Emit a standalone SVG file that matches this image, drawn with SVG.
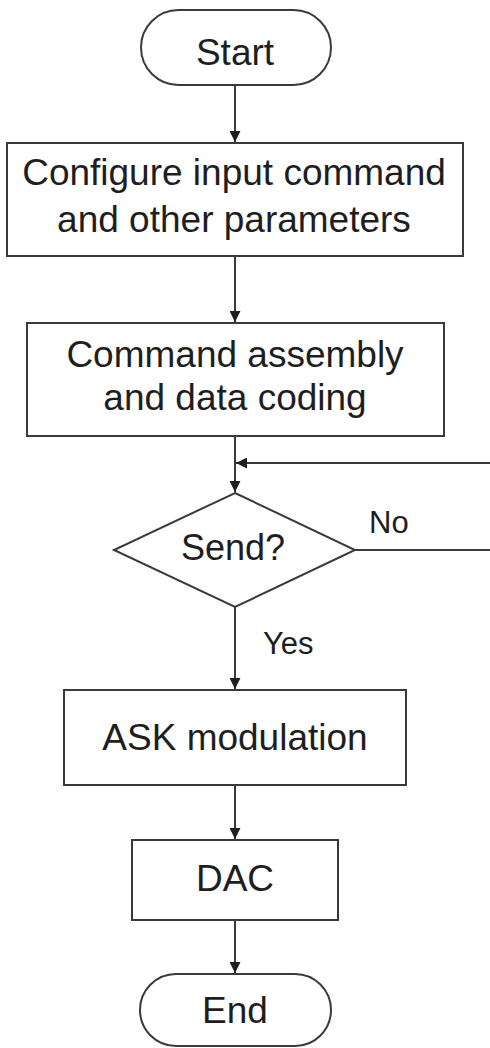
<svg xmlns="http://www.w3.org/2000/svg" width="490" height="1048" viewBox="0 0 490 1048">
<style>
.shape{fill:#fff;stroke:#3a3a3a;stroke-width:2}
.lbl{font-family:"Liberation Sans",Arial,sans-serif;font-size:37px;fill:#1e1e1e;text-anchor:middle}
.small{font-family:"Liberation Sans",Arial,sans-serif;font-size:31px;fill:#1e1e1e}
.conn{fill:none;stroke:#3a3a3a;stroke-width:2}
</style>
<defs>
<marker id="arr" viewBox="0 0 10 10" refX="10" refY="5" markerWidth="11" markerHeight="11" markerUnits="userSpaceOnUse" orient="auto">
<path d="M0,0 L10,5 L0,10 z" fill="#1e1e1e"/>
</marker>
</defs>
<rect width="490" height="1048" fill="#fff"/>
<g id="connectors">
<line class="conn" x1="235" y1="85" x2="235" y2="142" marker-end="url(#arr)"/>
<line class="conn" x1="235" y1="256" x2="235" y2="322" marker-end="url(#arr)"/>
<line class="conn" x1="235" y1="436" x2="235" y2="492" marker-end="url(#arr)"/>
<polyline class="conn" points="355,550 490,550"/>
<line class="conn" x1="490" y1="463" x2="236" y2="463" marker-end="url(#arr)"/>
<line class="conn" x1="235" y1="607" x2="235" y2="689" marker-end="url(#arr)"/>
<line class="conn" x1="235" y1="785" x2="235" y2="839" marker-end="url(#arr)"/>
<line class="conn" x1="235" y1="920" x2="235" y2="973" marker-end="url(#arr)"/>
<text class="small" x="369" y="533">No</text>
<text class="small" x="263" y="654">Yes</text>
</g>
<g id="start">
<rect class="shape" x="141" y="10" width="190" height="75" rx="37.5" ry="37.5"/>
<text class="lbl" x="235" y="65">Start</text>
</g>
<g id="configure">
<rect class="shape" x="7" y="143" width="456" height="113"/>
<text class="lbl" x="234" y="185">Configure input command</text>
<text class="lbl" x="234" y="232">and other parameters</text>
</g>
<g id="assembly">
<rect class="shape" x="27" y="323" width="417" height="113"/>
<text class="lbl" x="235" y="367">Command assembly</text>
<text class="lbl" x="235" y="410">and data coding</text>
</g>
<g id="send">
<polygon class="shape" points="235,493 355,550 235,607 114,550"/>
<text class="lbl" x="233" y="560" style="font-size:36px">Send?</text>
</g>
<g id="ask">
<rect class="shape" x="64" y="690" width="342" height="95"/>
<text class="lbl" x="235" y="750">ASK modulation</text>
</g>
<g id="dac">
<rect class="shape" x="132" y="840" width="206" height="80"/>
<text class="lbl" x="235" y="891">DAC</text>
</g>
<g id="end">
<rect class="shape" x="140" y="974" width="191" height="72" rx="36" ry="36"/>
<text class="lbl" x="235" y="1023">End</text>
</g>
</svg>
